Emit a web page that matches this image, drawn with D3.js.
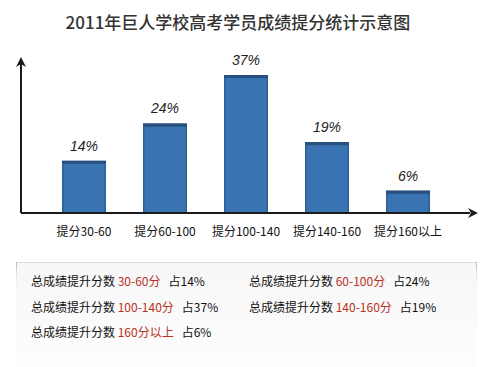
<!DOCTYPE html>
<html><head><meta charset="utf-8">
<script src="https://cdn.jsdelivr.net/npm/d3@7"></script>
<style>
html,body{margin:0;padding:0;background:#fff;}
svg{display:block;}
</style></head>
<body>
<script>
const categories = ["提分30-60","提分60-100","提分100-140","提分140-160","提分160以上"];
const values = [14, 24, 37, 19, 6];
const valueLabels = ["14%","24%","37%","19%","6%"];
const legendRanges = ["30-60分","60-100分","100-140分","140-160分","160分以上"];
const legendShares = ["占14%","占24%","占37%","占19%","占6%"];
const titleText = "2011年巨人学校高考学员成绩提分统计示意图";
const legendPrefix = "总成绩提升分数";

const W = 496, H = 367;
const svg = d3.select("body").append("svg").attr("width", W).attr("height", H);
const defs = svg.append("defs");
const g1 = defs.append("linearGradient").attr("id","lg").attr("x1",0).attr("y1",0).attr("x2",0).attr("y2",1);
g1.append("stop").attr("offset","0%").attr("stop-color","#f7f7f7");
g1.append("stop").attr("offset","100%").attr("stop-color","#fdfdfd");
const g2 = defs.append("linearGradient").attr("id","side").attr("x1",0).attr("y1",0).attr("x2",0).attr("y2",1);
g2.append("stop").attr("offset","0%").attr("stop-color","#bbb");
g2.append("stop").attr("offset","100%").attr("stop-color","#f7f7f7").attr("stop-opacity",0);

// title
svg.append("text").attr("x", 238).attr("y", 29).attr("text-anchor","middle")
  .attr("font-family","'Noto Sans CJK SC', sans-serif").attr("font-size", 17).attr("font-weight", 500)
  .attr("fill","#333").text(titleText);

const x0 = 21, y0 = 213;
const x = d3.scaleBand().domain(categories).range([21, 471]).paddingInner(0.457).paddingOuter(0.506);
const y = d3.scaleLinear().domain([0, 40]).range([y0, y0 - 40 * 138 / 37]);

// bars
const bars = svg.append("g");
categories.forEach((c, i) => {
  const bx = x(c), bw = x.bandwidth(), by = y(values[i]), bh = y(0) - y(values[i]);
  bars.append("rect").attr("x", bx).attr("y", by).attr("width", bw).attr("height", bh)
    .attr("fill", "#2e5f95");
  bars.append("rect").attr("x", bx + 1.5).attr("y", by + 3).attr("width", bw - 3).attr("height", bh - 3)
    .attr("fill", "#3a73b1");
  bars.append("rect").attr("x", bx).attr("y", by).attr("width", bw).attr("height", 3)
    .attr("fill", "#28507e");
  svg.append("text").attr("x", bx + bw / 2).attr("y", by - 10).attr("text-anchor","middle")
    .attr("font-family","'Liberation Sans', Arial, sans-serif").attr("font-style","italic")
    .attr("font-size", 14).attr("fill","#222").text(valueLabels[i]);
});

// axes
const axis = svg.append("g").attr("stroke","#1a1a1a").attr("stroke-width",2);
axis.append("line").attr("x1", x0).attr("y1", y0).attr("x2", x0).attr("y2", 64);
axis.append("line").attr("x1", x0).attr("y1", y0).attr("x2", 470).attr("y2", y0);
svg.append("path").attr("d", `M${x0},57 L${x0-5},67 L${x0},64 L${x0+5},67 Z`).attr("fill","#1a1a1a");
svg.append("path").attr("d", `M478,${y0} L468,${y0-5} L471,${y0} L468,${y0+5} Z`).attr("fill","#1a1a1a");

// category labels
const xAxis = d3.axisBottom(x).tickSize(0).tickPadding(0);
const xg = svg.append("g").attr("transform", `translate(0,${y0 + 19})`).call(xAxis);
xg.select(".domain").remove();
xg.selectAll("text").attr("font-family","'Noto Sans CJK SC', sans-serif").attr("font-size", 12)
  .attr("fill","#111").attr("dy","0.35em");

// legend box
const lx = 16, ly = 262, lw = 461, lh = 105;
svg.append("rect").attr("x", lx).attr("y", ly).attr("width", lw).attr("height", lh).attr("fill","url(#lg)");
svg.append("line").attr("x1", lx).attr("x2", lx + lw).attr("y1", ly + 0.5).attr("y2", ly + 0.5).attr("stroke","#ddd");
svg.append("rect").attr("x", lx).attr("y", ly).attr("width", 1).attr("height", 30).attr("fill","url(#side)");
svg.append("rect").attr("x", lx + lw - 1).attr("y", ly).attr("width", 1).attr("height", 30).attr("fill","url(#side)");

const colX = [31, 249];
const rowY = [286, 312, 337];
const fam = "'Noto Sans CJK SC', sans-serif";
legendRanges.forEach((r, i) => {
  const cx = colX[i % 2], cy = rowY[Math.floor(i / 2)];
  const t = svg.append("text").attr("x", cx).attr("y", cy).attr("font-family", fam).attr("font-size", 12).attr("fill","#111");
  t.append("tspan").text(legendPrefix + " ");
  t.append("tspan").attr("fill","#b8321f").text(r);
  t.append("tspan").attr("dx", 8).text(legendShares[i]);
});
</script>
</body></html>
